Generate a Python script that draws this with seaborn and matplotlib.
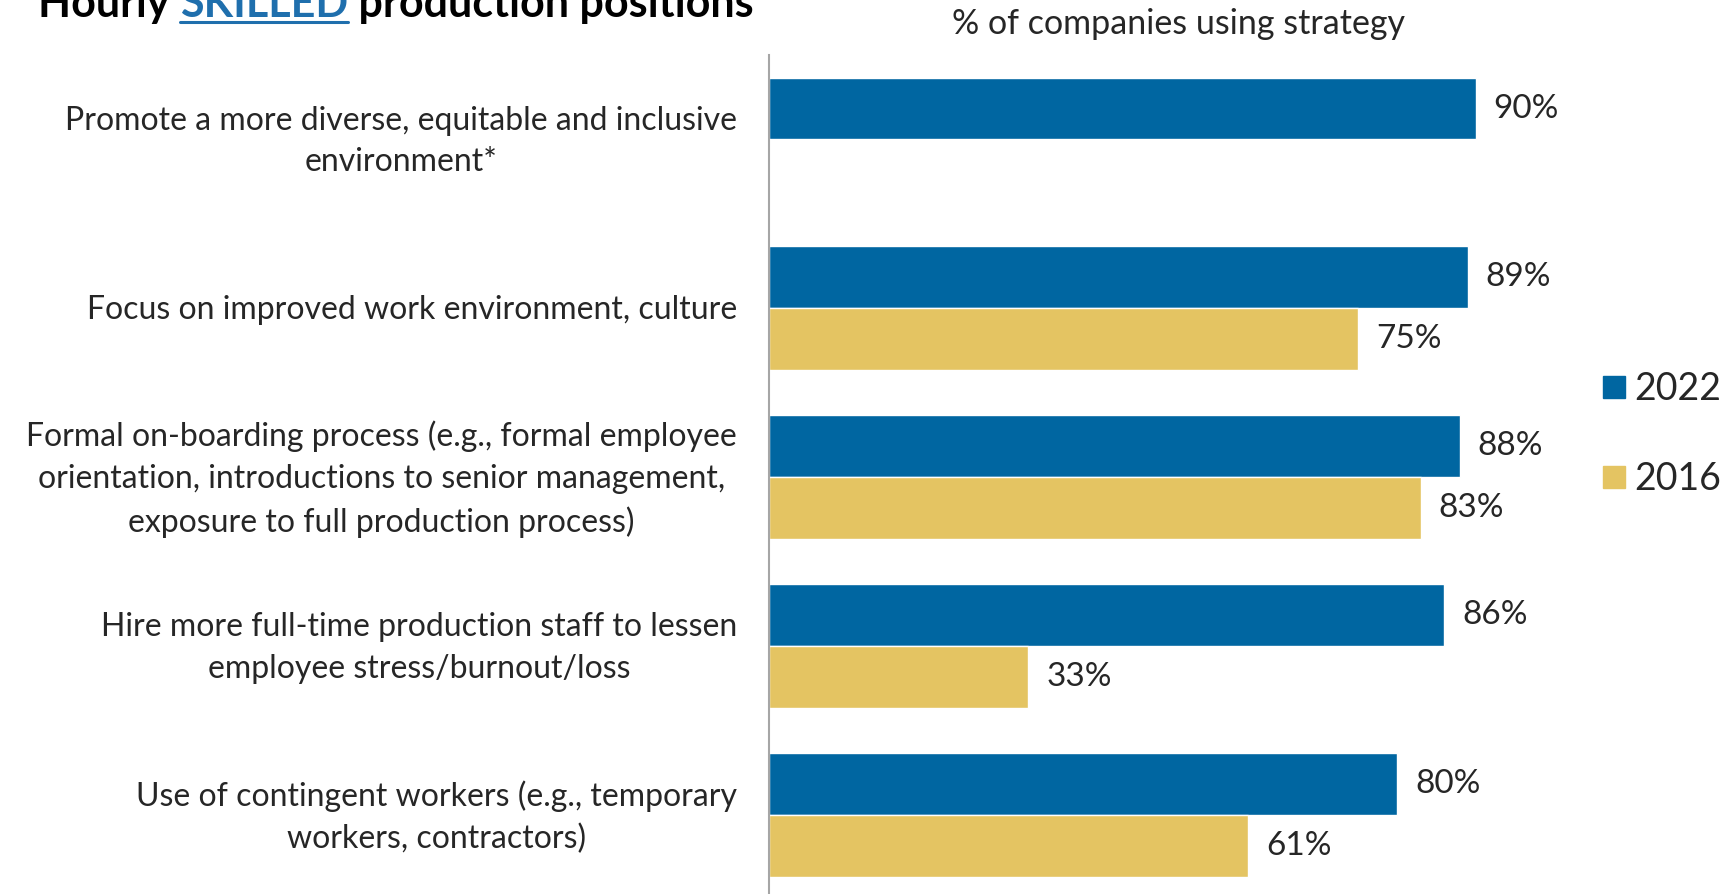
import numpy as np
import pandas as pd
import seaborn as sns
import matplotlib.pyplot as plt
from matplotlib.lines import Line2D

strategies = [
    "Promote a more diverse, equitable and inclusive\nenvironment*",
    "Focus on improved work environment, culture",
    "Formal on-boarding process (e.g., formal employee\norientation, introductions to senior management,\nexposure to full production process)",
    "Hire more full-time production staff to lessen\nemployee stress/burnout/loss",
    "Use of contingent workers (e.g., temporary\nworkers, contractors)",
]
pct_2022 = [90, 89, 88, 86, 80]
pct_2016 = [np.nan, 75, 83, 33, 61]
years = ["2022", "2016"]
colors = ["#0066A1", "#E4C462"]

df = pd.DataFrame({
    "strategy": strategies * 2,
    "pct": pct_2022 + pct_2016,
    "year": ["2022"] * 5 + ["2016"] * 5,
})

sns.set_style("white")
plt.rcParams["font.family"] = ["Lato", "DejaVu Sans"]

W, H = 1729, 894
fig = plt.figure(figsize=(W / 100, H / 100), dpi=100)
ax = fig.add_axes([769 / W, 0, 785 / W, (H - 55) / H])

sns.barplot(data=df, x="pct", y="strategy", hue="year", hue_order=years,
            palette=colors, width=0.733, orient="h", ax=ax, legend=False,
            saturation=1)

ax.set_xlim(0, 100)
ax.set_ylim(4.467, -0.5)
ax.set_xlabel("")
ax.set_ylabel("")
ax.set_xticks([])
for s in ["top", "right", "bottom"]:
    ax.spines[s].set_visible(False)
ax.spines["left"].set_color("#a6a6a6")
ax.spines["left"].set_linewidth(1.5)
ax.tick_params(axis="y", length=0)
ax.set_yticklabels([])

# category labels, centred lines, right edge near the axis
for i, lab in enumerate(strategies):
    ax.annotate(lab, xy=(0, i), xycoords=("axes fraction", "data"),
                xytext=(-32, -2), textcoords="offset pixels",
                ha="right", va="center", multialignment="center",
                linespacing=1.48, fontsize=23)

# value labels
for p in ax.patches:
    w = p.get_width()
    if np.isnan(w) or w == 0:
        continue
    ax.annotate(f"{w:.0f}%", (w, p.get_y() + p.get_height() / 2),
                xytext=(13, 0), textcoords="offset points",
                va="center", ha="left", fontsize=24)

# legend
handles = [Line2D([], [], marker="s", ls="", color=c, markersize=16) for c in colors]
fig.legend(handles, years, loc="center left", bbox_to_anchor=(1582 / W, 1 - 434 / H),
           frameon=False, fontsize=27, labelspacing=1.45, handletextpad=0.1,
           handlelength=0.9, borderaxespad=0)

# subtitle
fig.text(1178 / W, 1 - 24 / H, "% of companies using strategy", ha="center", va="center",
         fontsize=24.5)

# title with underlined blue word
fig.canvas.draw()
r = fig.canvas.get_renderer()
x = 38
y = 1 - 17 / H
parts = [("Hourly ", "black", False), ("SKILLED", "#1F6FAD", True),
         (" production positions", "black", False)]
for txt, col, ul in parts:
    t = fig.text(x / W, y, txt, color=col, fontsize=31, fontweight="bold",
                 va="baseline", ha="left")
    bb = t.get_window_extent(renderer=r)
    if ul:
        fig.add_artist(Line2D([bb.x0 / W, bb.x1 / W], [y - 5 / H, y - 5 / H],
                              color=col, lw=2.2, transform=fig.transFigure))
    x += bb.width

fig.savefig("out.png", dpi=100)
